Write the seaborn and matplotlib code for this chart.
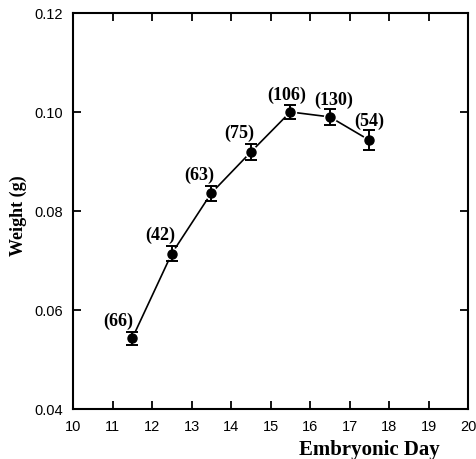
import numpy as np
import pandas as pd
import matplotlib
matplotlib.use("Agg")
import matplotlib.pyplot as plt
import seaborn as sns

# data
days = [11.5, 12.5, 13.5, 14.5, 15.5, 16.5, 17.5]
weight = [0.0543, 0.0714, 0.0836, 0.0919, 0.1000, 0.0990, 0.0943]
sem = [0.0013, 0.0016, 0.0015, 0.0017, 0.0015, 0.0016, 0.0020]
n_embryos = ["(66)", "(42)", "(63)", "(75)", "(106)", "(130)", "(54)"]
label_dx = [-10, -8.6, -8.6, -8, -2.5, 2.5, 0]   # offsets in points
label_dy = [12.5, 13.5, 13.5, 14, 13, 13, 14]

df = pd.DataFrame({"day": days, "weight": weight, "sem": sem})

sns.set_style("ticks", {"axes.edgecolor": "black", "text.color": "black",
                        "axes.labelcolor": "black", "xtick.color": "black",
                        "ytick.color": "black"})
plt.rcParams['font.family'] = ['Liberation Sans', 'DejaVu Sans']

fig = plt.figure(figsize=(4.76, 4.60), dpi=100)
ax = fig.add_axes([0.1534, 0.1087, 0.830, 0.861])

sns.lineplot(data=df, x="day", y="weight", color="black", linewidth=1.2, ax=ax, zorder=2)
sns.scatterplot(data=df, x="day", y="weight", color="black", s=55,
                edgecolor="white", linewidth=2.2, ax=ax, zorder=3)
ax.errorbar(df["day"], df["weight"], yerr=df["sem"], fmt="o", color="black",
            markersize=6.5, capsize=4, capthick=1.4, elinewidth=1.4, zorder=4)

for x, y, t, dx, dy in zip(days, weight, n_embryos, label_dx, label_dy):
    ax.annotate(t, (x, y), xytext=(dx, dy), textcoords="offset points",
                ha="center", va="center", fontsize=13, fontweight="bold",
                family="Liberation Serif", color="black")

ax.set_xlim(10, 20)
ax.set_ylim(0.04, 0.12)
ax.set_xticks(range(10, 21))
ax.set_yticks([0.04, 0.06, 0.08, 0.10, 0.12])
ax.set_yticklabels(["0.04", "0.06", "0.08", "0.10", "0.12"])
ax.tick_params(direction="in", length=6, width=1.3, top=True, right=True,
               labelsize=10.5, pad=7, colors="black")
for s in ax.spines.values():
    s.set_linewidth(1.5)
    s.set_visible(True)
    s.set_color("black")

ax.set_xlabel("")
ax.set_ylabel("Weight (g)", fontsize=13, fontweight="bold",
              family="Liberation Serif", color="black")
ax.yaxis.set_label_coords(-0.117, 0.49)
fig.text(440 / 476, 1 - 450 / 460, "Embryonic Day", ha="right", va="center",
         fontsize=15, fontweight="bold", family="Liberation Serif", color="black")

fig.savefig("out.png", dpi=100)
